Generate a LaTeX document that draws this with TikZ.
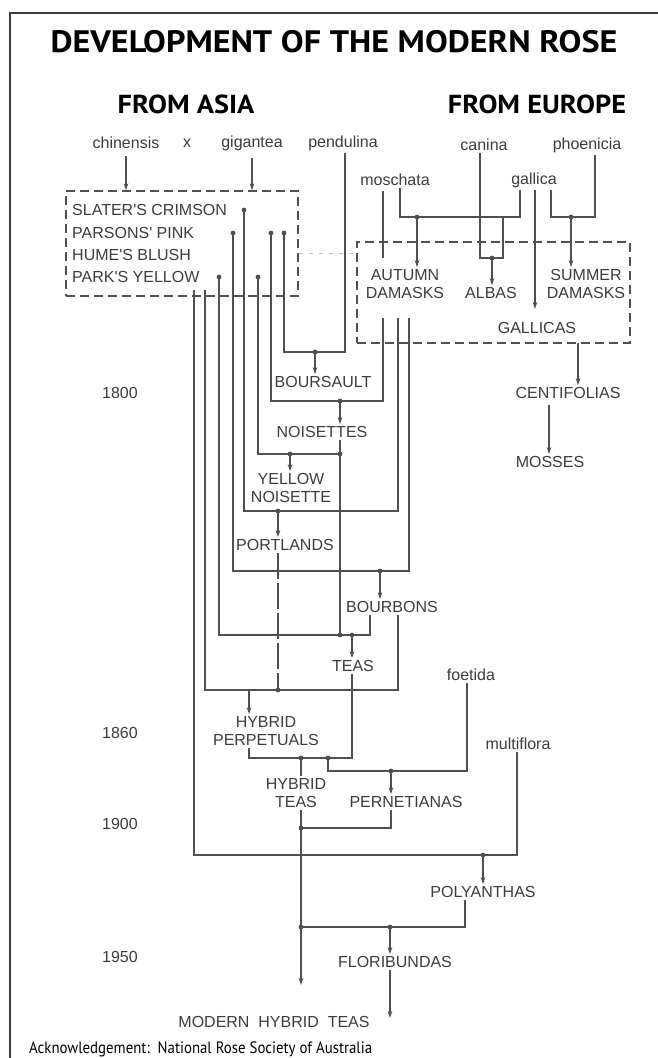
\documentclass[tikz,border=0pt]{standalone}
\usepackage{fontspec}
\setmainfont{Liberation Sans}
\newfontfamily\headfamily{PT Sans}
\newfontfamily\labfamily{Liberation Sans}
\newcommand\labfont{\labfamily\fontsize{16}{18}\selectfont}
\usetikzlibrary{arrows.meta,positioning,calc}
\definecolor{inkgray}{HTML}{3C3C3C}
\definecolor{linegray}{HTML}{505050}

\begin{document}
\begin{tikzpicture}[x=1pt,y=-1pt,>={Stealth[length=7pt,width=4.5pt]},
	lab/.style={font=\labfont,text=inkgray,inner sep=2pt,align=center},
	head/.style={font=\headfamily\bfseries\fontsize{26}{28}\selectfont,text=black},
	wire/.style={draw=linegray,line width=1.2pt},
	jdot/.style={radius=2.4pt},
	zone/.style={draw=linegray,line width=1.2pt,dash pattern=on 9pt off 5pt,inner sep=0pt}]
	\useasboundingbox (0,0) rectangle (658,1058);

	% Frame and headings
	\draw[line width=1.6pt,inkgray] (10,1058) -- (10,13) -- (658,13);
	\node[head,font=\headfamily\bfseries\fontsize{31}{33}\selectfont] (title) at (334,42) {\scalebox{1.1}[1]{DEVELOPMENT OF THE MODERN ROSE}};
	\node[head] (asia) at (186,104) {\scalebox{1.09}[1]{FROM ASIA}};
	\node[head] (europe) at (537,104) {\scalebox{1.09}[1]{FROM EUROPE}};

	% Years
	\node[lab] (y1800) at (120,393) {1800};
	\node[lab] (y1860) at (120,733) {1860};
	\node[lab] (y1900) at (120,824) {1900};
	\node[lab] (y1950) at (120,957) {1950};

	% Wild species
	\node[lab] (chin) at (126,143) {chinensis};
	\node[lab] (cross) at (187,143) {x};
	\node[lab] (gig) at (252,143) {gigantea};
	\node[lab] (pend) at (343,143) {pendulina};
	\node[lab] (can) at (484,145) {canina};
	\node[lab] (phoe) at (587,145) {phoenicia};
	\node[lab] (mosch) at (395,180) {moschata};
	\node[lab] (gall) at (534,180) {gallica};
	\node[lab] (foet) at (471,675) {foetida};
	\node[lab] (multi) at (518,744) {multiflora};

	% The two groups of old roses
	\node[zone,minimum width=232pt,minimum height=105pt] (asiaz) at (182,243.5) {};
	\node[zone,minimum width=273pt,minimum height=101pt] (eurz) at (493.5,292.5) {};
	\node[lab,anchor=west] (sc) at (70,210) {SLATER'S CRIMSON};
	\node[lab,anchor=west] (pp) at (70,233) {PARSONS' PINK};
	\node[lab,anchor=west] (hb) at (70,255) {HUME'S BLUSH};
	\node[lab,anchor=west] (py) at (70,277) {PARK'S YELLOW};
	\node[lab] (ad) at (405,284) {AUTUMN\\DAMASKS};
	\node[lab] (alb) at (491,293) {ALBAS};
	\node[lab] (sd) at (586,284) {SUMMER\\DAMASKS};
	\node[lab] (gals) at (537,328) {GALLICAS};
	\node[lab] (cent) at (568,393) {CENTIFOLIAS};
	\node[lab] (moss) at (550,462) {MOSSES};

	% Garden groups
	\node[lab] (bours) at (323,382) {BOURSAULT};
	\node[lab] (nois) at (322,432) {NOISETTES};
	\node[lab] (yn) at (291,488) {YELLOW\\NOISETTE};
	\node[lab] (port) at (285,545) {PORTLANDS};
	\node[lab] (bourb) at (392,607) {BOURBONS};
	\node[lab] (teas) at (353,666) {TEAS};
	\node[lab] (hp) at (266,731) {HYBRID\\PERPETUALS};
	\node[lab] (ht) at (296,793) {HYBRID\\TEAS};
	\node[lab] (pern) at (406,802) {PERNETIANAS};
	\node[lab] (poly) at (483,892) {POLYANTHAS};
	\node[lab] (flor) at (395,962) {FLORIBUNDAS};
	\node[lab] (mht) at (274,1022) {MODERN\ \ HYBRID\ \ TEAS};
	\node[font=\headfamily\fontsize{16.5}{18}\selectfont,anchor=west,inner sep=0pt] (ack) at (29,1049)
		{\scalebox{0.9}[1]{Acknowledgement:\ \ National Rose Society of Australia}};

	% Faint link between the boxes
	\draw[linegray!35,line width=1pt,dash pattern=on 4pt off 6pt] (asiaz.east |- 0,253) -- (eurz.west |- 0,253);

	% Asian parents, from the box
	\coordinate (scA) at (244,210);
	\coordinate (ppA) at (233,233);
	\coordinate (ppB) at (271,233);
	\coordinate (ppC) at (284,233);
	\coordinate (pyA) at (219,277);
	\coordinate (pyB) at (258,277);
	\coordinate (chA) at (194,290);
	\coordinate (hbA) at (205,290);
	\foreach \c in {scA,ppA,ppB,ppC,pyA,pyB} \fill[linegray] (\c) circle[jdot];
	\draw[wire,->,shorten <=5pt] (chin.south) -- (chin.south |- asiaz.north);
	\draw[wire,->,shorten <=5pt] (gig.south) -- (gig.south |- asiaz.north);

	% European parents
	\coordinate (adT) at (383,258);
	\coordinate (mgL) at (400,217);
	\coordinate (mgR) at (520,217);
	\coordinate (mgM) at (417,217);
	\draw[wire,shorten <=3pt] (adT |- mosch.south) -- (adT);
	\draw[wire] (mgL |- mosch.south) -- (mgL) -- (mgR) -- (mgR |- gall.south);
	\fill[linegray] (mgM) circle[jdot];
	\draw[wire,->] (mgM) -- (mgM |- ad.north);
	\coordinate (caB) at (480,258);
	\coordinate (caR) at (503,258);
	\coordinate (caM) at (492,258);
	\draw[wire] (caB |- can.south) -- (caB) -- (caR) -- (caR |- mgR);
	\fill[linegray] (caM) circle[jdot];
	\draw[wire,->] (caM) -- (caM |- alb.north);
	\coordinate (gaT) at (535,309);
	\draw[wire,->] (gaT |- gall.south) -- (gaT);
	\coordinate (gpL) at (551,217);
	\coordinate (gpR) at (595,217);
	\coordinate (gpM) at (571,217);
	\draw[wire] (gpL |- gall.south) -- (gpL) -- (gpR) -- (gpR |- phoe.south);
	\fill[linegray] (gpM) circle[jdot];
	\draw[wire,->] (gpM) -- (gpM |- sd.north);
	\coordinate (ceA) at (578,343);
	\draw[wire,->] (ceA) -- (ceA |- cent.north);
	\coordinate (moA) at (549,405);
	\draw[wire,->] (moA) -- (moA |- moss.north);

	% Boursault
	\coordinate (boL) at (284,352);
	\coordinate (boR) at (345,352);
	\coordinate (boM) at (315,352);
	\draw[wire] (ppC) -- (boL) -- (boR) -- (boR |- pend.south);
	\fill[linegray] (boM) circle[jdot];
	\draw[wire,->] (boM) -- (boM |- bours.north);

	% Noisettes
	\coordinate (adA) at (383,318);
	\coordinate (adB) at (398,318);
	\coordinate (adC) at (409,318);
	\coordinate (noL) at (271,401);
	\coordinate (noR) at (383,401);
	\coordinate (noM) at (340,401);
	\draw[wire] (ppB) -- (noL) -- (noR) -- (adA);
	\fill[linegray] (noM) circle[jdot];
	\draw[wire,->] (noM) -- (noM |- nois.north);

	% Yellow Noisette
	\coordinate (ynL) at (258,454);
	\coordinate (ynR) at (340,454);
	\coordinate (ynM) at (290,454);
	\draw[wire] (pyB) -- (ynL) -- (ynR);
	\fill[linegray] (ynR) circle[jdot] (ynM) circle[jdot];
	\draw[wire,->] (ynM) -- (ynM |- yn.north);

	% Portlands
	\coordinate (poL) at (244,511);
	\coordinate (poR) at (398,511);
	\coordinate (poM) at (278,511);
	\draw[wire] (scA) -- (poL) -- (poR) -- (adB);
	\fill[linegray] (poM) circle[jdot];
	\draw[wire,->] (poM) -- (poM |- port.north);

	% Bourbons
	\coordinate (bbL) at (233,571);
	\coordinate (bbR) at (409,571);
	\coordinate (bbM) at (380,571);
	\draw[wire] (ppA) -- (bbL) -- (bbR) -- (adC);
	\fill[linegray] (bbM) circle[jdot];
	\draw[wire,->] (bbM) -- (bbM |- bourb.north);

	% Teas
	\coordinate (teL) at (219,635);
	\coordinate (teR) at (370,635);
	\coordinate (teN) at (340,635);
	\coordinate (teM) at (352,635);
	\draw[wire] (pyA) -- (teL) -- (teR) -- (teR |- bourb.south);
	\draw[wire] (noM |- nois.south) -- (teN);
	\fill[linegray] (teN) circle[jdot] (teM) circle[jdot];
	\draw[wire,->] (teM) -- (teM |- teas.north);

	% Hybrid Perpetuals
	\coordinate (hpL) at (205,690);
	\coordinate (hpR) at (398,690);
	\coordinate (hpM) at (278,690);
	\coordinate (hpA) at (249,690);
	\draw[wire] (hbA) -- (hpL) -- (hpR) -- (hpR |- bourb.south);
	\draw[wire,dash pattern=on 26pt off 4pt] (poM |- port.south) -- (hpM);
	\fill[linegray] (hpM) circle[jdot];
	\draw[wire,->] (hpA) -- (hpA |- hp.north);

	% Hybrid Teas and Pernetianas
	\coordinate (htL) at (249,758);
	\coordinate (htR) at (352,758);
	\coordinate (htM) at (301,758);
	\coordinate (htP) at (328,758);
	\draw[wire] (htL |- hp.south) -- (htL) -- (htR) -- (htR |- teas.south);
	\fill[linegray] (htM) circle[jdot] (htP) circle[jdot];
	\draw[wire] (htM) -- (htM |- ht.north);
	\coordinate (peL) at (328,771);
	\coordinate (peR) at (467,771);
	\coordinate (peM) at (391,771);
	\draw[wire] (htP) -- (peL) -- (peR) -- (peR |- foet.south);
	\fill[linegray] (peM) circle[jdot];
	\draw[wire,->] (peM) -- (peM |- pern.north);
	\coordinate (hoM) at (301,828);
	\coordinate (hoR) at (391,828);
	\draw[wire] (hoR |- pern.south) -- (hoR) -- (hoM);
	\fill[linegray] (hoM) circle[jdot];
	\coordinate (mhA) at (301,985);
	\draw[wire,->] (htM |- ht.south) -- (mhA);

	% Polyanthas
	\coordinate (nhL) at (194,855);
	\coordinate (nhR) at (517,855);
	\coordinate (nhM) at (483,855);
	\draw[wire] (chA) -- (nhL) -- (nhR) -- (nhR |- multi.south);
	\fill[linegray] (nhM) circle[jdot];
	\draw[wire,->] (nhM) -- (nhM |- poly.north);

	% Floribundas
	\coordinate (flL) at (301,927);
	\coordinate (flR) at (465,927);
	\coordinate (flM) at (390,927);
	\draw[wire] (flR |- poly.south) -- (flR) -- (flL);
	\fill[linegray] (flL) circle[jdot] (flM) circle[jdot];
	\draw[wire,->] (flM) -- (flM |- flor.north);
	\coordinate (flA) at (390,1018);
	\draw[wire,->] (flM |- flor.south) -- (flA);
\end{tikzpicture}
\end{document}
